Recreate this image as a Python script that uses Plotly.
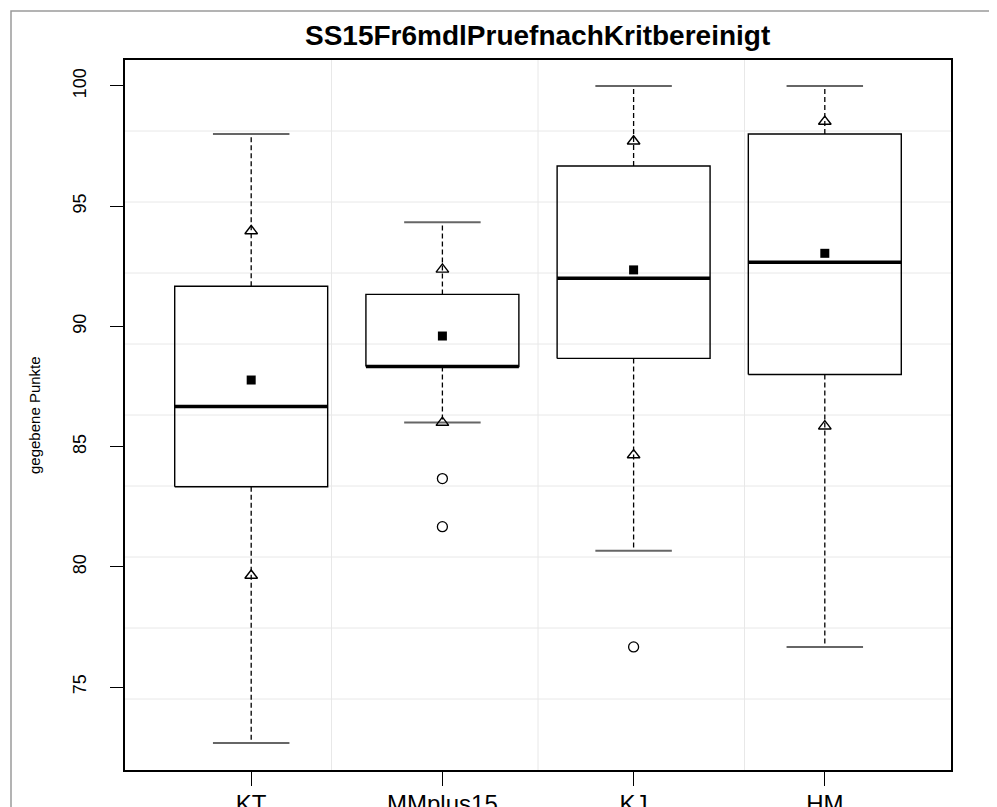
import plotly.graph_objects as go

# ---------------- data ----------------
categories = ["KT", "MMplus15", "KJ", "HM"]
q1 = [83.33, 88.33, 88.67, 88.0]
median = [86.67, 88.33, 92.0, 92.67]
q3 = [91.67, 91.33, 96.67, 98.0]
whisker_lo = [72.67, 86.0, 80.67, 76.67]
whisker_hi = [98.0, 94.33, 100.0, 100.0]
means = [87.77, 89.6, 92.35, 93.04]
tri_hi = [93.97, 92.37, 97.7, 98.52]
tri_lo = [79.64, 86.0, 84.65, 85.85]
outlier_cat = ["MMplus15", "MMplus15", "KJ"]
outlier_val = [83.67, 81.67, 76.67]
y_ticks = [75, 80, 85, 90, 95, 100]

title_text = "SS15Fr6mdlPruefnachKritbereinigt"
y_title = "gegebene Punkte"

# ---------------- build ----------------
pos = {c: i + 1 for i, c in enumerate(categories)}
hw = 0.4      # half box width
cw = 0.2      # half cap width

box_x, box_y = [], []
med_x, med_y = [], []
wh_x, wh_y = [], []
cap_x, cap_y = [], []
for c, a, m, b, lo, hi in zip(categories, q1, median, q3, whisker_lo, whisker_hi):
    p = pos[c]
    box_x += [p - hw, p + hw, p + hw, p - hw, p - hw, None]
    box_y += [a, a, b, b, a, None]
    med_x += [p - hw, p + hw, None]
    med_y += [m, m, None]
    wh_x += [p, p, None, p, p, None]
    wh_y += [b, hi, None, a, lo, None]
    cap_x += [p - cw, p + cw, None, p - cw, p + cw, None]
    cap_y += [hi, hi, None, lo, lo, None]

fig = go.Figure()
fig.add_trace(go.Scatter(x=wh_x, y=wh_y, mode="lines",
                         line=dict(color="black", width=1.3, dash="5px,3px"),
                         hoverinfo="skip", showlegend=False))
fig.add_trace(go.Scatter(x=cap_x, y=cap_y, mode="lines",
                         line=dict(color="#666666", width=2),
                         hoverinfo="skip", showlegend=False))
fig.add_trace(go.Scatter(x=box_x, y=box_y, mode="lines",
                         line=dict(color="black", width=1.4),
                         hoverinfo="skip", showlegend=False))
fig.add_trace(go.Scatter(x=med_x, y=med_y, mode="lines",
                         line=dict(color="black", width=3.6),
                         hoverinfo="skip", showlegend=False))
fig.add_trace(go.Scatter(x=[pos[c] for c in categories] * 2, y=tri_hi + tri_lo,
                         mode="markers",
                         marker=dict(symbol="triangle-up-open", size=11, color="black",
                                     line=dict(width=1.4, color="black")),
                         showlegend=False))
fig.add_trace(go.Scatter(x=[pos[c] for c in categories], y=means, mode="markers",
                         marker=dict(symbol="square", size=9, color="black"),
                         showlegend=False))
fig.add_trace(go.Scatter(x=[pos[c] for c in outlier_cat], y=outlier_val, mode="markers",
                         marker=dict(symbol="circle-open", size=10, color="black",
                                     line=dict(width=1.3, color="black")),
                         showlegend=False))

# page offset (browser body margin) and plot-area geometry in figure pixels
OFF = 8
FW, FH = 997 - OFF, 807 - OFF
L, R, T, B = 125 - OFF, 951 - OFF, 60 - OFF, 770 - OFF
W, H = R - L, B - T


def px_x(p):
    return (p - OFF - L) / W


def px_y(p):
    return (B - (p - OFF)) / H


# grid lines (equal divisions of plot area, like R grid())
shapes = []
for k in range(1, 4):
    shapes.append(dict(type="line", xref="x domain", yref="y domain",
                       x0=k / 4, x1=k / 4, y0=0, y1=1, layer="below",
                       line=dict(color="#e8e8e8", width=1)))
for k in range(1, 10):
    shapes.append(dict(type="line", xref="x domain", yref="y domain",
                       x0=0, x1=1, y0=k / 10, y1=k / 10, layer="below",
                       line=dict(color="#e8e8e8", width=1)))
# outer image frame
shapes.append(dict(type="rect", xref="paper", yref="paper",
                   x0=px_x(11), x1=px_x(1030),
                   y0=px_y(840), y1=px_y(11),
                   line=dict(color="#9a9a9a", width=1.5), layer="below"))

font_family = "Liberation Sans, Arial, Helvetica, sans-serif"
fig.update_layout(
    width=FW, height=FH,
    margin=dict(l=L, r=FW - R, t=T, b=FH - B, autoexpand=False),
    paper_bgcolor="white", plot_bgcolor="white",
    shapes=shapes,
    font=dict(family=font_family, color="black"),
    annotations=[
        dict(text="<b>" + title_text + "</b>", xref="paper", yref="paper",
             x=px_x(537), y=px_y(35), xanchor="center", yanchor="middle",
             showarrow=False, font=dict(size=28, family=font_family, color="black")),
        dict(text=y_title, xref="paper", yref="paper",
             x=px_x(34), y=px_y(415), xanchor="center", yanchor="middle",
             textangle=-90, showarrow=False,
             font=dict(size=15, family=font_family, color="black")),
    ],
)
fig.update_xaxes(range=[0.34, 4.66], tickmode="array",
                 tickvals=[pos[c] for c in categories], ticktext=categories,
                 showgrid=False, zeroline=False, automargin=False,
                 showline=True, linecolor="black", linewidth=1.5, mirror=True,
                 ticks="outside", ticklen=14, tickcolor="black", tickwidth=1.2,
                 ticklabelstandoff=-3,
                 tickfont=dict(size=24, family=font_family, color="black"))
fig.update_yaxes(range=[71.55, 101.08], tickmode="array", tickvals=y_ticks,
                 ticktext=[str(v) for v in y_ticks],
                 showgrid=False, zeroline=False, automargin=False,
                 showline=True, linecolor="black", linewidth=1.5, mirror=True,
                 ticks="outside", ticklen=13, tickcolor="black", tickwidth=1.2,
                 tickangle=-90, ticklabelstandoff=17,
                 tickfont=dict(size=18, family=font_family, color="black"))

fig.write_html("out.html", config={"displayModeBar": False})
